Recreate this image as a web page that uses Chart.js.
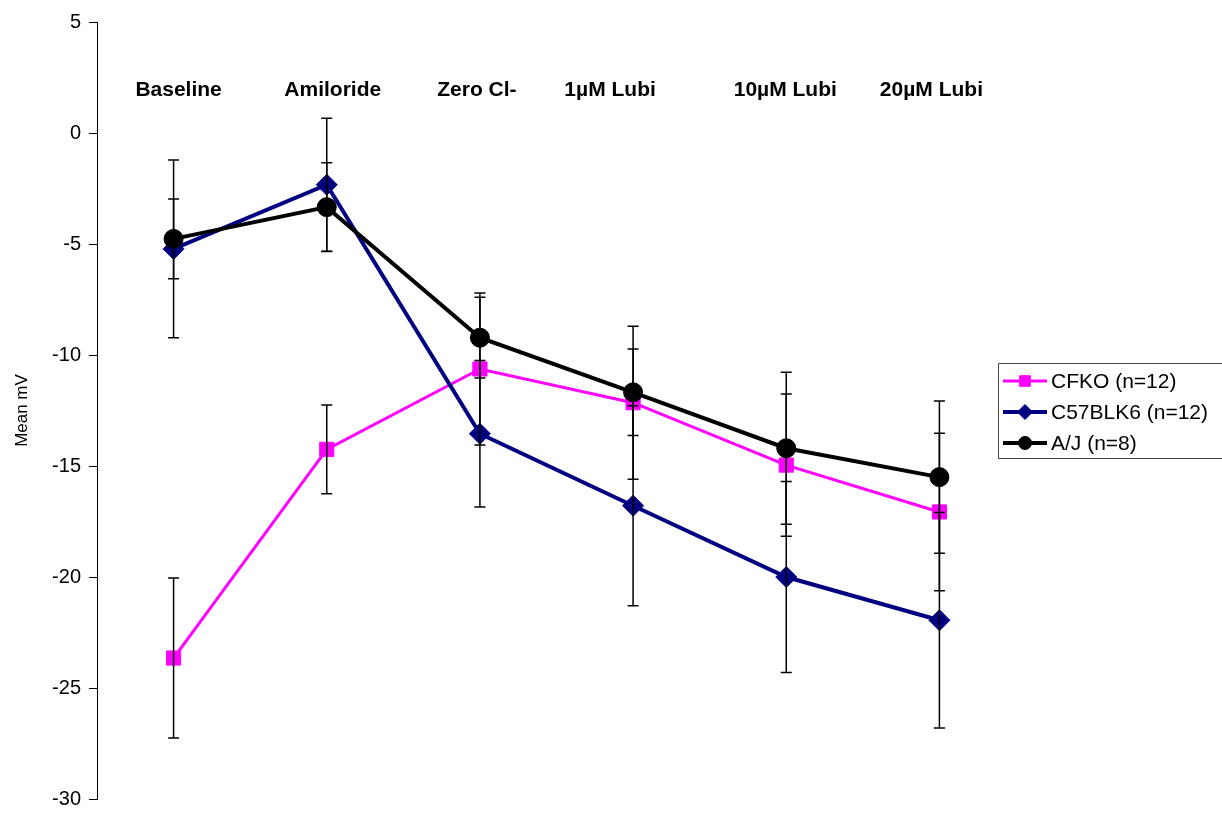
<!DOCTYPE html>
<html>
<head>
<meta charset="utf-8">
<title>Mean mV by condition</title>
<script src="https://cdn.jsdelivr.net/npm/chart.js@4.4.1/dist/chart.umd.min.js"></script>
<style>
  html, body { margin: 0; padding: 0; background: #fff; }
  #wrap { width: 1222px; height: 813px; }
</style>
</head>
<body>
<div id="wrap"><canvas id="chart" width="1222" height="813"></canvas></div>
<script>
// Conditions along the protocol
const categories = ['Baseline', 'Amiloride', 'Zero Cl-', '1µM Lubi', '10µM Lubi', '20µM Lubi'];

// Mean potential difference (mV) and error (±) per group
const cfkoMean = [-23.65, -14.25, -10.63, -12.15, -14.96, -17.07];
const cfkoErr  = [3.6, 2.0, 3.42, 3.45, 3.2, 3.55];

const c57Mean  = [-5.22, -2.33, -13.55, -16.79, -20.0, -21.95];
const c57Err   = [4.0, 3.0, 3.3, 4.5, 4.3, 4.85];

const ajMean   = [-4.77, -3.34, -9.22, -11.68, -14.2, -15.5];
const ajErr    = [1.8, 2.0, 1.82, 1.95, 3.42, 3.43];

const seriesNames = ['CFKO (n=12)', 'C57BLK6 (n=12)', 'A/J (n=8)'];

// Value axis
const yMin = -30;
const yMax = 5;
const yStep = 5;

const FONT = "'Liberation Sans', Arial, sans-serif";

// Error bars drawn over the series
const errorBarPlugin = {
  id: 'errorBars',
  afterDatasetsDraw(chart) {
    const { ctx, scales: { x, y } } = chart;
    ctx.save();
    ctx.strokeStyle = '#000';
    ctx.lineWidth = 1.5;
    const capHalf = 5.5;
    const orderIdx = chart.data.datasets
      .map((d, i) => i)
      .sort((a, b) => chart.data.datasets[b].order - chart.data.datasets[a].order);
    orderIdx.forEach(di => {
      const ds = chart.data.datasets[di];
      ds.data.forEach((v, i) => {
        const e = ds.errors[i];
        const px = x.getPixelForValue(i);
        const yTop = y.getPixelForValue(v + e);
        const yBot = y.getPixelForValue(v - e);
        ctx.beginPath();
        ctx.moveTo(px, yTop);
        ctx.lineTo(px, yBot);
        ctx.moveTo(px - capHalf, yTop);
        ctx.lineTo(px + capHalf, yTop);
        ctx.moveTo(px - capHalf, yBot);
        ctx.lineTo(px + capHalf, yBot);
        ctx.stroke();
      });
    });
    ctx.restore();
  }
};

// Condition names written in a row above the data
const conditionLabelPlugin = {
  id: 'conditionLabels',
  afterDraw(chart) {
    const { ctx, scales: { x, y } } = chart;
    const nudge = [5, 6, -3, -23, -1, -8];
    const rowY = y.getPixelForValue(1.95);
    ctx.save();
    ctx.fillStyle = '#000';
    ctx.font = 'bold 21px ' + FONT;
    ctx.textAlign = 'center';
    ctx.textBaseline = 'middle';
    categories.forEach((c, i) => {
      ctx.fillText(c, x.getPixelForValue(i) + nudge[i], rowY);
    });
    ctx.restore();
  }
};

// Boxed legend with line-and-marker samples
const boxLegendPlugin = {
  id: 'boxLegend',
  afterDraw(chart) {
    const { ctx } = chart;
    const left = 998.5, top = 363.5, bottom = 458.5, right = 1240;
    const rows = [381, 412, 443];
    ctx.save();
    ctx.strokeStyle = '#444';
    ctx.lineWidth = 1;
    ctx.fillStyle = '#fff';
    ctx.beginPath();
    ctx.rect(left, top, right - left, bottom - top);
    ctx.fill();
    ctx.stroke();
    [0, 1, 2].forEach((di, r) => {
      const ds = chart.data.datasets[di];
      const cy = rows[r];
      ctx.strokeStyle = ds.borderColor;
      ctx.lineWidth = ds.borderWidth;
      ctx.beginPath();
      ctx.moveTo(1003, cy);
      ctx.lineTo(1047, cy);
      ctx.stroke();
      ctx.fillStyle = ds.pointBackgroundColor;
      ctx.strokeStyle = ds.pointBorderColor;
      ctx.lineWidth = 1;
      Chart.helpers.drawPoint(ctx, {
        pointStyle: ds.pointStyle,
        rotation: 0,
        borderWidth: 1,
        radius: ds.legendRadius
      }, 1025, cy);
      ctx.fillStyle = '#000';
      ctx.font = '21px ' + FONT;
      ctx.textAlign = 'left';
      ctx.textBaseline = 'middle';
      ctx.fillText(seriesNames[di], 1051, cy + 1);
    });
    ctx.restore();
  }
};

const ctx = document.getElementById('chart').getContext('2d');
new Chart(ctx, {
  type: 'line',
  data: {
    labels: categories,
    datasets: [
      {
        label: seriesNames[0],
        data: cfkoMean,
        errors: cfkoErr,
        borderColor: '#FF00FF',
        backgroundColor: '#FF00FF',
        pointBackgroundColor: '#FF00FF',
        pointBorderColor: '#FF00FF',
        borderWidth: 3,
        pointStyle: 'rect',
        pointRadius: 10,
        pointBorderWidth: 1,
        legendRadius: 7.5,
        tension: 0,
        order: 3
      },
      {
        label: seriesNames[1],
        data: c57Mean,
        errors: c57Err,
        borderColor: '#000080',
        backgroundColor: '#000080',
        pointBackgroundColor: '#000080',
        pointBorderColor: '#000080',
        borderWidth: 4,
        pointStyle: 'rectRot',
        pointRadius: 10.5,
        pointBorderWidth: 1,
        legendRadius: 7.5,
        tension: 0,
        order: 2
      },
      {
        label: seriesNames[2],
        data: ajMean,
        errors: ajErr,
        borderColor: '#000000',
        backgroundColor: '#000000',
        pointBackgroundColor: '#000000',
        pointBorderColor: '#000000',
        borderWidth: 4,
        pointStyle: 'circle',
        pointRadius: 9.5,
        pointBorderWidth: 1,
        legendRadius: 6.5,
        tension: 0,
        order: 1
      }
    ]
  },
  options: {
    responsive: false,
    animation: false,
    devicePixelRatio: 1,
    layout: { padding: { left: 0, right: 206, top: 22, bottom: 14 } },
    plugins: {
      legend: { display: false },
      tooltip: { enabled: false },
      title: { display: false }
    },
    scales: {
      x: {
        type: 'category',
        display: false,
        offset: true
      },
      y: {
        min: yMin,
        max: yMax,
        afterFit(scale) {
          scale.width = 97;
          scale.paddingTop = 0;
          scale.paddingBottom = 0;
        },
        ticks: {
          stepSize: yStep,
          color: '#000',
          padding: 8,
          font: { family: FONT, size: 20 }
        },
        grid: {
          display: true,
          drawOnChartArea: false,
          drawTicks: true,
          tickLength: 8,
          color: '#000',
          lineWidth: 1
        },
        border: { display: true, color: '#000', width: 1 },
        title: {
          display: true,
          text: 'Mean mV',
          color: '#000',
          font: { family: FONT, size: 17 },
          padding: { top: 12, bottom: 0 }
        }
      }
    }
  },
  plugins: [errorBarPlugin, conditionLabelPlugin, boxLegendPlugin]
});
</script>
</body>
</html>
